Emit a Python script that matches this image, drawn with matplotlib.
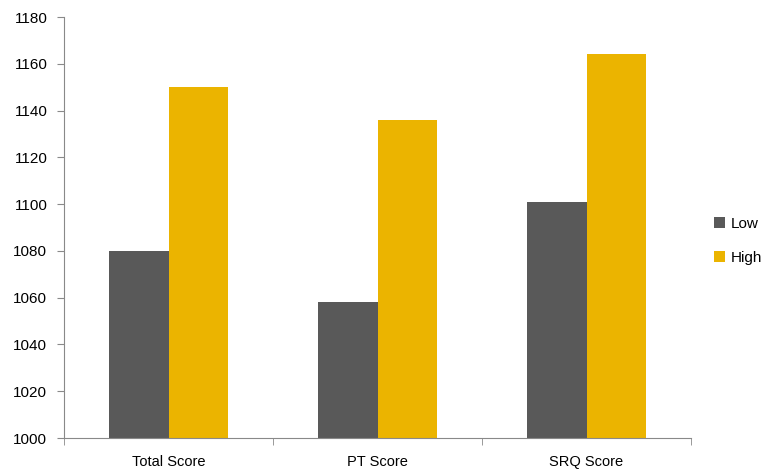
import numpy as np
import matplotlib.pyplot as plt

categories = ["Total Score", "PT Score", "SRQ Score"]
low = [1080, 1058, 1101]
high = [1150, 1136, 1164]
yticks = [1000, 1020, 1040, 1060, 1080, 1100, 1120, 1140, 1160, 1180]

plt.rcParams["font.family"] = ["Liberation Sans", "DejaVu Sans"]

fig = plt.figure(figsize=(7.64, 4.70), dpi=100)
ax = fig.add_axes([0.0838, 0.068, 0.8207, 0.8958])

x = np.arange(len(categories))
w = 1 / 3.5
ax.bar(x - w / 2, [v - 1000 for v in low], w, bottom=1000, color="#595959", label="Low")
ax.bar(x + w / 2, [v - 1000 for v in high], w, bottom=1000, color="#EBB400", label="High")

ax.set_xlim(-0.5, len(categories) - 0.5)
ax.set_ylim(1000, 1180)
ax.set_yticks(yticks)
ax.tick_params(axis="y", labelsize=11, color="#898989", length=5, pad=7)

ax.set_xticks(x)
ax.set_xticklabels(categories, fontsize=10.5)
ax.tick_params(axis="x", length=0, pad=12)
ax.set_xticks(np.arange(-0.5, len(categories)), minor=True)
ax.tick_params(axis="x", which="minor", length=5, color="#898989")

for s in ["top", "right"]:
    ax.spines[s].set_visible(False)
for s in ["left", "bottom"]:
    ax.spines[s].set_color("#898989")

ax.legend(loc="center left", bbox_to_anchor=(1.015, 0.468), frameon=False,
          fontsize=11, handlelength=0.7, handleheight=0.7, labelspacing=1.3,
          handletextpad=0.4)

fig.savefig("out.png", dpi=100)
